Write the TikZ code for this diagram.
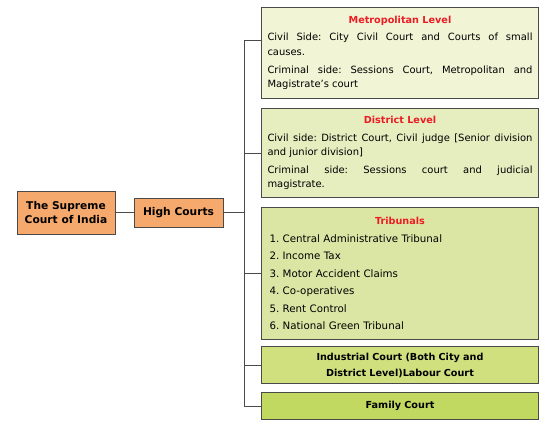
\documentclass[tikz,border=0pt]{standalone}
\usepackage{fontspec}
\setmainfont{DejaVu Sans}
\setlength{\parindent}{0pt}
\hyphenpenalty=10000
\exhyphenpenalty=10000
\frenchspacing
\definecolor{courtorange}{HTML}{F6A96C}
\definecolor{metrogreen}{HTML}{F1F5D6}
\definecolor{districtgreen}{HTML}{E6EEC0}
\definecolor{tribunalgreen}{HTML}{DCE6A4}
\definecolor{industrialgreen}{HTML}{D0E07E}
\definecolor{familygreen}{HTML}{C1D960}
\definecolor{headred}{HTML}{ED1C24}
\definecolor{boxline}{HTML}{4A4A4A}
\newcommand{\levelhead}[1]{{\centering\fontsize{9.7}{14}\selectfont\color{headred}\bfseries #1\par}}
\begin{document}
\begin{tikzpicture}[x=1bp,y=-1bp,
    courtbox/.style={draw=boxline, line width=1pt, fill=courtorange, align=center,
        font=\fontsize{10.7}{15}\selectfont\bfseries, inner sep=0pt},
    levelbox/.style={draw=boxline, line width=1pt, anchor=north west, align=justify,
        minimum width=277bp, text width=265bp, inner xsep=6bp, inner ysep=2bp,
        font=\fontsize{10}{14.3}\selectfont},
    branch/.style={draw=boxline, line width=0.9pt}]
    \useasboundingbox (0,0) rectangle (552,436);

    \node[courtbox, minimum width=98bp, minimum height=43bp] (supreme) at (66,212.5)
        {The Supreme\\Court of India};
    \node[courtbox, minimum width=89bp, minimum height=29bp] (high) at (178.5,212.5)
        {High Courts};

    \node[levelbox, fill=metrogreen, minimum height=91bp] (metro) at (261,7)
        {\levelhead{Metropolitan Level}\vspace{3bp}
         Civil Side: City Civil Court and Courts of small\linebreak causes.\par\vspace{4bp}
         Criminal side: Sessions Court, Metropolitan and\linebreak Magistrate's court};
    \node[levelbox, fill=districtgreen, minimum height=89bp] (district) at (261,108)
        {\levelhead{District Level}\vspace{3.5bp}
         Civil side: District Court, Civil judge [Senior division\linebreak and junior division]\par\vspace{3.5bp}
         Criminal side: Sessions court and judicial\linebreak magistrate.};
    \node[levelbox, fill=tribunalgreen, minimum height=132bp, align=left,
        font=\fontsize{10.3}{17.6}\selectfont] (tribunal) at (261,207)
        {\levelhead{Tribunals}\vspace{0.5bp}
         \hspace*{2bp}1. Central Administrative Tribunal\par
         \hspace*{2bp}2. Income Tax\par
         \hspace*{2bp}3. Motor Accident Claims\par
         \hspace*{2bp}4. Co-operatives\par
         \hspace*{2bp}5. Rent Control\par
         \hspace*{2bp}6. National Green Tribunal};
    \node[levelbox, fill=industrialgreen, minimum height=37bp, align=center,
        font=\fontsize{9.7}{16}\selectfont\bfseries] (industrial) at (261,346)
        {Industrial Court (Both City and\\District Level)Labour Court};
    \node[levelbox, fill=familygreen, minimum height=27bp, align=center,
        font=\fontsize{9.7}{14}\selectfont\bfseries] (family) at (261,392)
        {Family Court};

    \coordinate (metroJoin) at (244,40);
    \coordinate (familyJoin) at (244,407);
    \draw[branch] (supreme) -- (high);
    \draw[branch] (high) -- (high -| metroJoin);
    \draw[branch] (metroJoin) -- (familyJoin);
    \draw[branch] (metroJoin) -- (metroJoin -| metro.west);
    \foreach \lvl in {district,tribunal,industrial,family}
        \draw[branch] (\lvl.west -| metroJoin) -- (\lvl.west);
\end{tikzpicture}
\end{document}
